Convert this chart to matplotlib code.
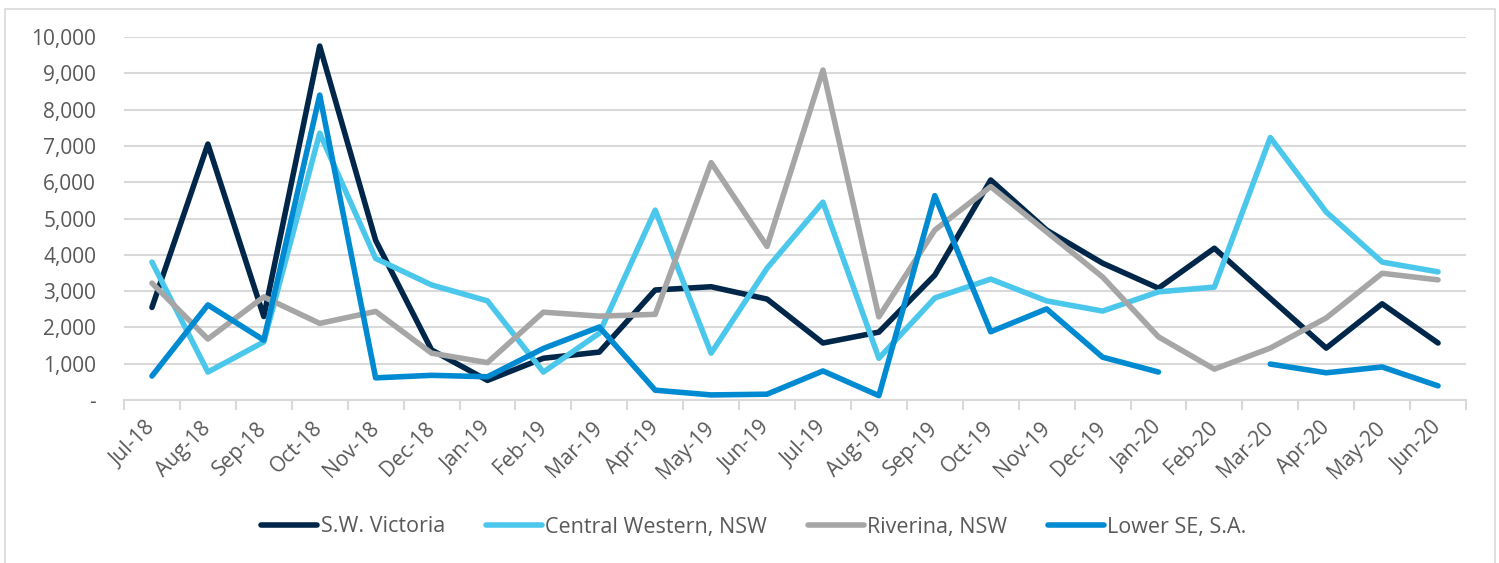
import matplotlib.pyplot as plt
from matplotlib.patches import Rectangle
from matplotlib.ticker import FuncFormatter
import numpy as np

# Monthly values, Jul-18 .. Jun-20
months = ["Jul-18", "Aug-18", "Sep-18", "Oct-18", "Nov-18", "Dec-18",
          "Jan-19", "Feb-19", "Mar-19", "Apr-19", "May-19", "Jun-19",
          "Jul-19", "Aug-19", "Sep-19", "Oct-19", "Nov-19", "Dec-19",
          "Jan-20", "Feb-20", "Mar-20", "Apr-20", "May-20", "Jun-20"]

sw_victoria = [2550, 7050, 2300, 9750, 4400, 1380, 540, 1150, 1320, 3030, 3120, 2780,
               1570, 1870, 3440, 6060, 4680, 3770, 3080, 4180, 2800, 1430, 2650, 1570]
central_western = [3800, 770, 1600, 7350, 3900, 3170, 2730, 770, 1840, 5230, 1290, 3630,
                   5450, 1150, 2810, 3330, 2730, 2450, 2980, 3110, 7230, 5180, 3800, 3530]
riverina = [3220, 1680, 2840, 2110, 2440, 1290, 1030, 2420, 2310, 2360, 6540, 4230,
            9090, 2290, 4680, 5880, 4630, 3390, 1740, 850, 1430, 2260, 3490, 3310]
lower_se = [660, 2620, 1650, 8400, 610, 680, 640, 1420, 2010, 270, 140, 160,
            800, 120, 5630, 1880, 2510, 1180, 770, np.nan, 990, 750, 910, 390]

series = [
    ("S.W. Victoria", sw_victoria, "#00274A"),
    ("Central Western, NSW", central_western, "#4CC7EC"),
    ("Riverina, NSW", riverina, "#A6A6A6"),
    ("Lower SE, S.A.", lower_se, "#008AD1"),
]

plt.rcParams['font.family'] = ['Open Sans', 'DejaVu Sans']
text_col = "#595959"
grid_col = "#D9D9D9"

fig = plt.figure(figsize=(14.99, 5.63), dpi=100)
ax = fig.add_axes([124 / 1499, 1 - 400 / 563, (1466 - 124) / 1499, (400 - 37) / 563])

x = np.arange(len(months))
for name, vals, col in series:
    ax.plot(x, vals, color=col, lw=4, label=name,
            solid_capstyle='round', solid_joinstyle='round')

ax.set_xlim(-0.5, len(months) - 0.5)
ax.set_ylim(0, 10000)
ax.set_yticks(np.arange(0, 10001, 1000))
ax.yaxis.set_major_formatter(FuncFormatter(lambda v, p: "-" if v == 0 else f"{v:,.0f}"))
ax.grid(axis='y', color=grid_col, lw=1.5)
ax.set_axisbelow(True)

ax.set_xticks(x)
ax.set_xticklabels(months, rotation=45, ha='right', va='center', rotation_mode='anchor')
ax.set_xticks(np.arange(-0.5, len(months), 1), minor=True)
ax.tick_params(axis='x', which='major', length=0, pad=18, labelsize=15, labelcolor=text_col)
ax.tick_params(axis='x', which='minor', length=7, width=1.5, color=grid_col)
ax.tick_params(axis='y', length=0, pad=20, labelsize=15, labelcolor=text_col)

for s in ['top', 'right', 'left']:
    ax.spines[s].set_visible(False)
ax.spines['bottom'].set_color(grid_col)
ax.spines['bottom'].set_linewidth(1.5)

fig.legend(loc='center', bbox_to_anchor=(754 / 1499, 1 - 527 / 563), ncol=4, frameon=False,
           fontsize=15.5, labelcolor=text_col, handlelength=2.6, handletextpad=0.15,
           columnspacing=1.9)

# light outer border
fig.patches.append(Rectangle((5 / 1499, -0.01), 1490 / 1499, 1 - 9 / 563 + 0.01,
                             transform=fig.transFigure, fill=False,
                             edgecolor=grid_col, lw=1.2))

fig.savefig("out.png", dpi=100)
